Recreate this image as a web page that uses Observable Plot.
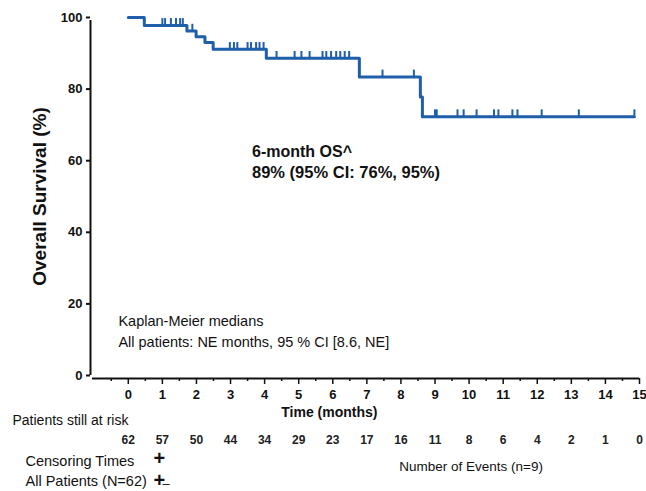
<!DOCTYPE html>
<html>
<head>
<meta charset="utf-8">
<script src="https://cdn.jsdelivr.net/npm/d3@7"></script>
<script src="https://cdn.jsdelivr.net/npm/@observablehq/plot@0.6"></script>
<style>
  html, body { margin: 0; padding: 0; background: #fff; }
  svg { display: block; }
</style>
</head>
<body>
<div id="chart"></div>
<script>
// ---- Data ----
const eventTimes = [0.47, 1.72, 1.99, 2.25, 2.49, 4.05, 6.78, 8.57, 8.63];
const survLevels = [100, 97.8, 96.2, 94.6, 93.0, 91.1, 88.6, 83.4, 77.8, 72.3];
const lastFollowUp = 14.85;
const censorTimes = [
  1.0, 1.08, 1.25, 1.4, 1.52, 1.6, 1.88,
  2.98, 3.1, 3.2, 3.5, 3.6, 3.75, 3.85, 3.97,
  4.35, 4.88, 5.08, 5.32, 5.7, 5.81, 5.95, 6.1, 6.22, 6.35, 6.48,
  7.46, 8.38,
  9.0, 9.05, 9.66, 9.84, 10.22, 10.73, 10.86, 11.27, 11.42, 12.13, 13.22, 14.85
];
const xTicks = [0, 1, 2, 3, 4, 5, 6, 7, 8, 9, 10, 11, 12, 13, 14, 15];
const xMinorTicks = [-0.5, 0.5, 1.5, 2.5, 3.5, 4.5, 5.5, 6.5, 7.5, 8.5, 9.5, 10.5, 11.5, 12.5, 13.5, 14.5];
const yTicks = [0, 20, 40, 60, 80, 100];
const riskTimes = [0, 1, 2, 3, 4, 5, 6, 7, 8, 9, 10, 11, 12, 13, 14, 15];
const atRisk = [62, 57, 50, 44, 34, 29, 23, 17, 16, 11, 8, 6, 4, 2, 1, 0];
const osLines = ["6-month OS^", "89% (95% CI: 76%, 95%)"];
const kmLines = ["Kaplan-Meier medians", "All patients: NE months, 95 % CI [8.6, NE]"];

// ---- Build tables ----
const stepPts = [{t: 0, s: survLevels[0]}]
  .concat(eventTimes.map((t, i) => ({t, s: survLevels[i + 1]})))
  .concat([{t: lastFollowUp, s: survLevels[survLevels.length - 1]}]);
function survAt(t) {
  let s = survLevels[0];
  eventTimes.forEach((e, i) => { if (e <= t) s = survLevels[i + 1]; });
  return s;
}
const censors = censorTimes.map(t => ({t, s: survAt(t)}));
const riskRows = riskTimes.map((t, i) => ({t, n: String(atRisk[i])}));

const BLUE = "#1f5ea8";
const FONT = "'Liberation Sans', Arial, sans-serif";
const xMin = -1.05;

const chart = Plot.plot({
  width: 646,
  height: 491,
  marginTop: 17,
  marginBottom: 116,
  marginLeft: 92,
  marginRight: 7,
  style: {fontFamily: FONT, fontSize: "12px", color: "#111", background: "#fff", overflow: "visible"},
  x: {domain: [xMin, 15]},
  y: {domain: [0, 100]},
  marks: [
    // axes lines
    Plot.ruleX([xMin], {y1: 0, y2: 100, dx: -2, insetBottom: -3, stroke: "#111", strokeWidth: 2}),
    Plot.ruleY([0], {x1: xMin, x2: 15, dy: 3, stroke: "#111", strokeWidth: 2}),
    Plot.axisY({ticks: yTicks, tickSize: 4, tickPadding: 4, dx: -2, fontWeight: "bold", fontSize: 13, label: null, strokeWidth: 2}),
    Plot.axisX({ticks: xTicks, tickSize: 6, tickPadding: 5, dy: 3, fontWeight: "bold", fontSize: 13, label: null, strokeWidth: 1.5}),
    Plot.axisX({ticks: xMinorTicks, tickSize: 3, dy: 3, text: null, label: null, strokeWidth: 1.5}),
    // y label
    Plot.text(["Overall Survival (%)"], {frameAnchor: "left", y: 50, dx: -53, rotate: -90, textAnchor: "middle", fontWeight: "bold", fontSize: 19, fill: "#111"}),
    // x label
    Plot.text(["Time (months)"], {x: 5.9, frameAnchor: "bottom", dy: 41, fontWeight: "bold", fontSize: 14, fill: "#111"}),
    // KM curve
    Plot.line(stepPts, {x: "t", y: "s", curve: "step-after", stroke: BLUE, strokeWidth: 3}),
    Plot.ruleX(censors, {x: "t", y1: "s", y2: d => d.s + 1.9, stroke: BLUE, strokeWidth: 2}),
    // annotations
    Plot.text([osLines[0]], {x: 3.63, y: 62.6, textAnchor: "start", fontWeight: "bold", fontSize: 16, fill: "#111"}),
    Plot.text([osLines[1]], {x: 3.63, y: 56.6, textAnchor: "start", fontWeight: "bold", fontSize: 16.5, fill: "#111"}),
    Plot.text([kmLines[0]], {x: -0.29, y: 15.2, textAnchor: "start", fontSize: 14.5, fill: "#111"}),
    Plot.text([kmLines[1]], {x: -0.29, y: 9.3, textAnchor: "start", fontSize: 14.5, fill: "#111"}),
    // risk table
    Plot.text(["Patients still at risk"], {frameAnchor: "bottom-left", dx: -80, dy: 49, textAnchor: "start", fontSize: 14, fill: "#111"}),
    Plot.text(riskRows, {x: "t", text: "n", frameAnchor: "bottom", dy: 68, fontSize: 12, fontWeight: "bold", fill: "#222"}),
    Plot.text(["Censoring Times"], {frameAnchor: "bottom-left", dx: -67, dy: 90, textAnchor: "start", fontSize: 14.5, fill: "#111"}),
    Plot.text(["+"], {frameAnchor: "bottom-left", dx: 61, dy: 89, fontSize: 20, fontWeight: "bold", fill: "#111"}),
    Plot.text(["All Patients (N=62)"], {frameAnchor: "bottom-left", dx: -67, dy: 110, textAnchor: "start", fontSize: 14.5, fill: "#111"}),
    Plot.text(["+"], {frameAnchor: "bottom-left", dx: 61, dy: 111, fontSize: 20, fontWeight: "bold", fill: "#111"}),
    Plot.text(["\u2013"], {frameAnchor: "bottom-left", dx: 70, dy: 112, fontSize: 13, fill: "#111"}),
    Plot.text(["Number of Events (n=9)"], {x: 10.06, frameAnchor: "bottom", dy: 95, fontSize: 13.5, fill: "#111"})
  ]
});
document.getElementById("chart").appendChild(chart);
</script>
</body>
</html>
